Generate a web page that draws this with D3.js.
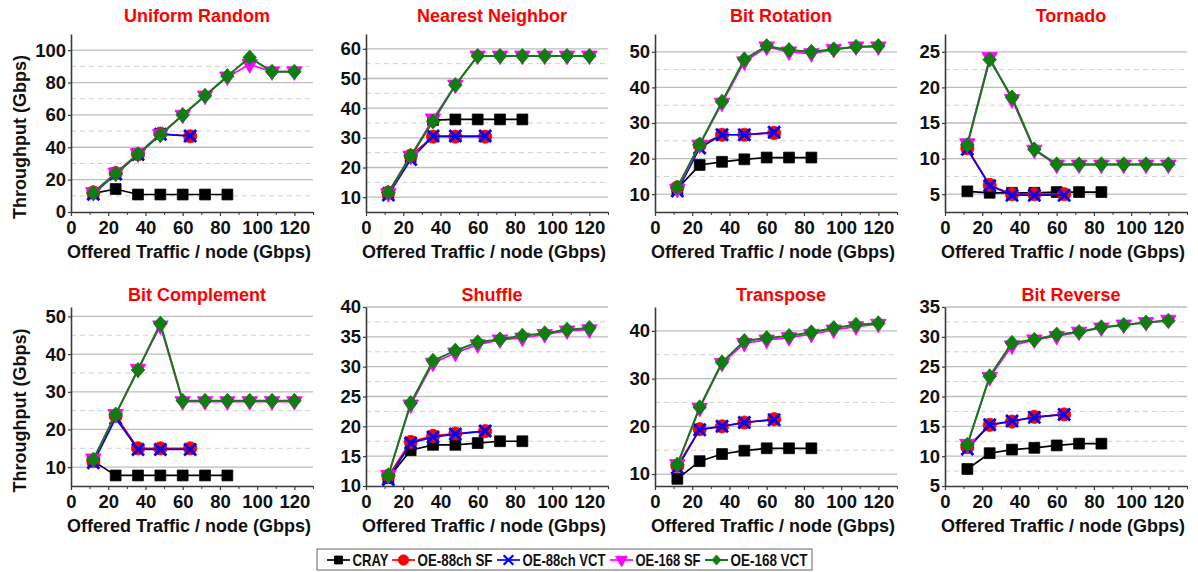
<!DOCTYPE html>
<html>
<head>
<meta charset="utf-8">
<script src="https://cdn.jsdelivr.net/npm/d3@7"></script>
<style>
  html, body { margin: 0; padding: 0; background: #fff; }
  svg { display: block; font-family: "Liberation Sans", Arial, Helvetica, sans-serif; }
</style>
</head>
<body>
<svg id="chart" width="1198" height="572"></svg>
<script>
// Traffic patterns, one panel each (row-major order)
const patterns = ["Uniform Random", "Nearest Neighbor", "Bit Rotation", "Tornado",
                  "Bit Complement", "Shuffle", "Transpose", "Bit Reverse"];

// Offered load per node (Gbps) at which each network was simulated
const loadCray = [12, 24, 36, 48, 60, 72, 84];
const load88   = [12, 24, 36, 48, 64];
const load168  = [12, 24, 36, 48, 60, 72, 84, 96, 108, 120];

const xTickValues = [0, 20, 40, 60, 80, 100, 120];

// Accepted throughput (Gbps), one row per pattern
const crayThroughput = [
  [11.5, 14.2, 10.8, 10.8, 10.8, 10.8, 10.8],
  [11.5, 23.5, 36.0, 36.2, 36.2, 36.2, 36.2],
  [11.5, 18.2, 19.1, 19.8, 20.3, 20.3, 20.3],
  [5.4, 5.2, 5.2, 5.2, 5.3, 5.3, 5.3],
  [11.6, 7.8, 7.8, 7.8, 7.8, 7.8, 7.8],
  [11.3, 16.0, 16.9, 16.9, 17.2, 17.5, 17.5],
  [9.0, 12.7, 14.2, 14.9, 15.4, 15.4, 15.4],
  [7.85, 10.5, 11.1, 11.4, 11.8, 12.1, 12.1]
];
const oe88SF = [
  [12.1, 24.0, 35.7, 48.5, 46.8],
  [11.5, 24.0, 30.4, 30.4, 30.4],
  [11.9, 23.8, 26.7, 26.7, 27.2],
  [11.45, 6.3, 5.0, 5.0, 5.0],
  [11.6, 23.6, 15.0, 15.0, 15.0],
  [11.7, 17.4, 18.4, 18.8, 19.2],
  [11.7, 19.4, 20.0, 20.8, 21.5],
  [11.5, 15.25, 15.8, 16.6, 17.0]
];
const oe88VCT = [
  [11.0, 23.5, 35.5, 48.0, 47.0],
  [10.7, 22.7, 30.6, 30.6, 30.6],
  [10.9, 23.0, 26.7, 26.7, 27.4],
  [11.3, 6.2, 4.86, 4.86, 4.86],
  [11.2, 23.0, 14.7, 14.7, 14.7],
  [11.1, 17.2, 18.2, 18.7, 19.2],
  [11.3, 19.3, 20.0, 20.8, 21.4],
  [11.2, 15.25, 15.9, 16.5, 17.0]
];
const oe168SF = [
  [12.0, 24.0, 36.0, 48.0, 59.8, 71.7, 83.5, 91.2, 86.7, 86.7],
  [11.2, 23.8, 36.4, 47.8, 57.6, 57.6, 57.6, 57.6, 57.6, 57.6],
  [11.4, 23.8, 35.6, 47.2, 51.4, 50.0, 49.5, 50.7, 51.4, 51.4],
  [12.1, 24.2, 18.3, 11.2, 9.1, 9.1, 9.1, 9.1, 9.1, 9.1],
  [12.2, 24.0, 36.0, 47.5, 27.4, 27.4, 27.4, 27.4, 27.4, 27.4],
  [11.8, 23.6, 30.6, 32.3, 33.7, 34.5, 34.8, 35.4, 36.0, 36.2],
  [12.0, 23.8, 33.2, 37.4, 38.1, 38.6, 39.3, 40.2, 40.9, 41.4],
  [12.0, 23.2, 28.5, 29.5, 30.1, 30.8, 31.5, 32.0, 32.4, 32.8]
];
const oe168VCT = [
  [11.7, 23.6, 35.7, 47.6, 60.0, 71.9, 84.0, 95.5, 86.7, 86.7],
  [11.6, 23.9, 35.5, 47.8, 57.6, 57.6, 57.6, 57.6, 57.6, 57.6],
  [11.9, 24.0, 36.0, 47.9, 51.6, 50.5, 50.0, 50.7, 51.4, 51.6],
  [11.9, 23.9, 18.6, 11.3, 9.2, 9.2, 9.2, 9.2, 9.2, 9.2],
  [12.0, 24.0, 35.8, 48.1, 27.6, 27.6, 27.6, 27.6, 27.6, 27.6],
  [11.8, 23.9, 31.0, 32.7, 34.1, 34.6, 35.2, 35.6, 36.2, 36.5],
  [12.0, 24.0, 33.4, 37.9, 38.5, 38.95, 39.7, 40.6, 41.3, 41.6],
  [11.9, 23.4, 29.0, 29.5, 30.4, 30.8, 31.6, 32.0, 32.4, 32.7]
];

// Y axis extent, labelled ticks and in-between dashed grid per panel
const yDomains = [[0, 110], [5, 65], [5, 55], [2.5, 27.5], [5, 52.5], [10, 40], [7.5, 45], [5, 35]];
const yTickValues = [
  [0, 20, 40, 60, 80, 100],
  [10, 20, 30, 40, 50, 60],
  [10, 20, 30, 40, 50],
  [5, 10, 15, 20, 25],
  [10, 20, 30, 40, 50],
  [10, 15, 20, 25, 30, 35, 40],
  [10, 20, 30, 40],
  [5, 10, 15, 20, 25, 30, 35]
];
const yMinorValues = [
  [10, 30, 50, 70, 90],
  [15, 25, 35, 45, 55],
  [15, 25, 35, 45],
  [7.5, 12.5, 17.5, 22.5],
  [15, 25, 35, 45],
  [12.5, 17.5, 22.5, 27.5, 32.5, 37.5],
  [15, 25, 35],
  [7.5, 12.5, 17.5, 22.5, 27.5, 32.5]
];

const seriesNames = ["CRAY", "OE-88ch SF", "OE-88ch VCT", "OE-168 SF", "OE-168 VCT"];

// ---- marker shapes (size argument = half width) ----
const shapeSquare = { draw(c, r) { c.rect(-r, -r, 2 * r, 2 * r); } };
const shapeCircle = { draw(c, r) { c.moveTo(r, 0); c.arc(0, 0, r, 0, 2 * Math.PI); } };
const shapeX = { draw(c, r) { c.moveTo(-r, -r); c.lineTo(r, r); c.moveTo(r, -r); c.lineTo(-r, r); } };
const shapeTriDown = { draw(c, r) {
  const h = r * 1.75;
  c.moveTo(-r, -h * 0.36); c.lineTo(r, -h * 0.36); c.lineTo(0, h * 0.64); c.closePath();
} };
const shapeDiamond = { draw(c, r) {
  c.moveTo(0, -r * 1.1); c.lineTo(r, 0); c.lineTo(0, r * 1.1); c.lineTo(-r, 0); c.closePath();
} };

const seriesStyle = [
  { color: "#000000", shape: shapeSquare,  r: 5.4, lw: 1.7, stroke: false },
  { color: "#ff0000", shape: shapeCircle,  r: 6.6, lw: 1.7, stroke: false },
  { color: "#0000ff", shape: shapeX,       r: 6.0, lw: 1.7, stroke: true },
  { color: "#ff00ff", shape: shapeTriDown, r: 7.8, lw: 1.7, stroke: false },
  { color: "#0f7d0f", shape: shapeDiamond, r: 6.8, lw: 2.0, stroke: false }
];

const svg = d3.select("#chart");
const colX0 = [71, 366, 655, 945];
const plotW = 242;
const rowY = [[212, 34], [486, 307]];
const titleY = [22, 301];

const fontAxis = "bold 18.5px 'Liberation Sans', Arial, sans-serif";

patterns.forEach((name, p) => {
  const col = p % 4, row = Math.floor(p / 4);
  const x0 = colX0[col];
  const [yb, yt] = rowY[row];
  const x = d3.scaleLinear().domain([0, 130]).range([x0, x0 + plotW]);
  const y = d3.scaleLinear().domain(yDomains[p]).range([yb, yt]);
  const g = svg.append("g");

  // grid
  g.append("g").selectAll("line").data(yMinorValues[p]).join("line")
    .attr("x1", x(0)).attr("x2", x(130))
    .attr("y1", d => y(d)).attr("y2", d => y(d))
    .attr("stroke", "#d0d0d0").attr("stroke-width", 1).attr("stroke-dasharray", "5,4");
  g.append("g").selectAll("line").data(yTickValues[p].filter(v => v > yDomains[p][0])).join("line")
    .attr("x1", x(0)).attr("x2", x(130))
    .attr("y1", d => y(d)).attr("y2", d => y(d))
    .attr("stroke", "#bdbdbd").attr("stroke-width", 1.3);

  // axes
  const xAxis = g.append("g").attr("transform", `translate(0,${yb})`)
    .call(d3.axisBottom(x).tickValues(xTickValues).tickSize(4).tickPadding(5).tickSizeOuter(0));
  g.append("g").attr("transform", `translate(0,${yb})`)
    .call(d3.axisBottom(x).tickValues([10, 30, 50, 70, 90, 110, 130]).tickSize(3).tickFormat("").tickSizeOuter(0))
    .call(a => a.select(".domain").remove());
  const yAxis = g.append("g").attr("transform", `translate(${x0},0)`)
    .call(d3.axisLeft(y).tickValues(yTickValues[p]).tickSize(3).tickPadding(2).tickSizeOuter(0));
  [xAxis, yAxis].forEach(a => {
    a.select(".domain").attr("stroke", "#3a3a3a").attr("stroke-width", 1.6);
    a.selectAll(".tick line").attr("stroke", "#3a3a3a").attr("stroke-width", 1.2);
    a.selectAll(".tick text").style("font", fontAxis).attr("fill", "#111");
  });
  g.selectAll(".tick line").attr("stroke", "#3a3a3a");

  // series
  const sets = [
    [loadCray, crayThroughput[p]],
    [load88, oe88SF[p]],
    [load88, oe88VCT[p]],
    [load168, oe168SF[p]],
    [load168, oe168VCT[p]]
  ];
  sets.forEach(([xs, ys], s) => {
    const st = seriesStyle[s];
    const pts = xs.map((v, i) => [v, ys[i]]);
    g.append("path").datum(pts)
      .attr("fill", "none").attr("stroke", st.color).attr("stroke-width", st.lw)
      .attr("d", d3.line().x(d => x(d[0])).y(d => y(d[1])));
    g.append("g").selectAll("path").data(pts).join("path")
      .attr("transform", d => `translate(${x(d[0])},${y(d[1])})`)
      .attr("d", d3.symbol().type(st.shape).size(st.r))
      .attr("fill", st.stroke ? "none" : st.color)
      .attr("stroke", st.color)
      .attr("stroke-width", st.stroke ? 2.8 : 0.8);
  });

  // titles
  g.append("text").attr("x", x0 + 126).attr("y", titleY[row])
    .attr("text-anchor", "middle").attr("fill", "#ff0000")
    .style("font", "bold 18px 'Liberation Sans', Arial, sans-serif").text(name);
  g.append("text").attr("x", x0 + 118).attr("y", yb + 46)
    .attr("text-anchor", "middle").attr("fill", "#111")
    .style("font", "bold 18px 'Liberation Sans', Arial, sans-serif")
    .text("Offered Traffic / node (Gbps)");
  if (col === 0) {
    g.append("text").attr("transform", `translate(26,${(yb + yt) / 2 + 14}) rotate(-90)`)
      .attr("text-anchor", "middle").attr("fill", "#111")
      .style("font", "bold 18px 'Liberation Sans', Arial, sans-serif")
      .text("Throughput (Gbps)");
  }
});

// ---- legend ----
const legend = svg.append("g");
legend.append("rect").attr("x", 317).attr("y", 549).attr("width", 495).attr("height", 21)
  .attr("fill", "#fff").attr("stroke", "#666").attr("stroke-width", 1);
const legendX = [327, 392, 497, 610, 705];
const legendTextW = [36, 75, 83, 65, 77];
const legendR = [4.0, 5.2, 4.8, 6.0, 4.6];
seriesNames.forEach((nm, s) => {
  const st = seriesStyle[s];
  const lx = legendX[s], ly = 560;
  legend.append("line").attr("x1", lx).attr("x2", lx + 23).attr("y1", ly).attr("y2", ly)
    .attr("stroke", st.color).attr("stroke-width", st.lw);
  legend.append("path").attr("transform", `translate(${lx + 11.5},${ly})`)
    .attr("d", d3.symbol().type(st.shape).size(legendR[s]))
    .attr("fill", st.stroke ? "none" : st.color).attr("stroke", st.color)
    .attr("stroke-width", st.stroke ? 2.2 : 0.8);
  legend.append("text").attr("x", lx + 25.5).attr("y", 566)
    .attr("textLength", legendTextW[s]).attr("lengthAdjust", "spacingAndGlyphs")
    .attr("fill", "#111")
    .style("font", "bold 17px 'Liberation Sans', Arial, sans-serif").text(nm);
});
</script>
</body>
</html>
